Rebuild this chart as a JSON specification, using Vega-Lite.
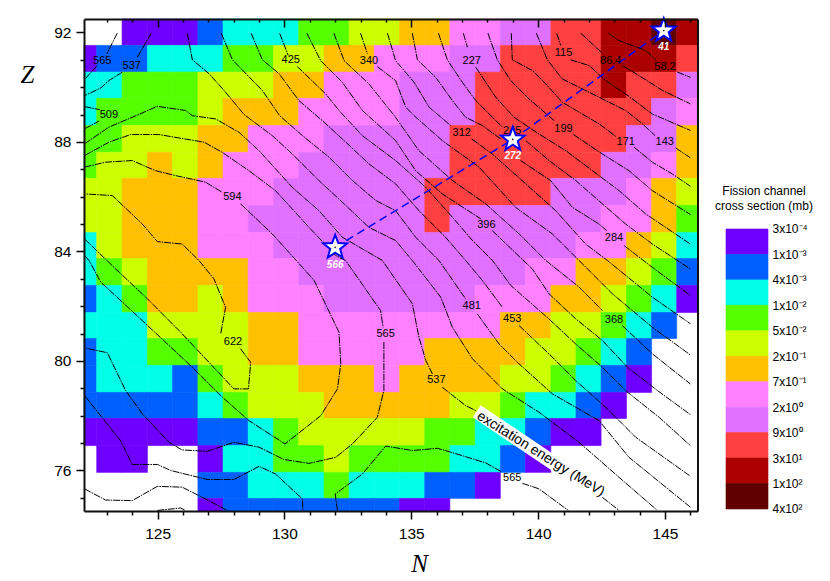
{"$schema":"https://vega.github.io/schema/vega-lite/v6.json","padding":{"left":20,"top":13,"right":0,"bottom":0},"bounds":"flush","spacing":28,"config":{"font":"Liberation Sans","view":{"stroke":null}},
"datasets":{
"cols":[{"N":122,"n0":122.1,"n1":122.6},{"N":123,"n0":122.6,"n1":123.6},{"N":124,"n0":123.6,"n1":124.6},{"N":125,"n0":124.6,"n1":125.59},{"N":126,"n0":125.59,"n1":126.59},{"N":127,"n0":126.59,"n1":127.58},{"N":128,"n0":127.58,"n1":128.57},{"N":129,"n0":128.57,"n1":129.57},{"N":130,"n0":129.57,"n1":130.56},{"N":131,"n0":130.56,"n1":131.56},{"N":132,"n0":131.56,"n1":132.55},{"N":133,"n0":132.55,"n1":133.54},{"N":134,"n0":133.54,"n1":134.54},{"N":135,"n0":134.54,"n1":135.53},{"N":136,"n0":135.53,"n1":136.52},{"N":137,"n0":136.52,"n1":137.52},{"N":138,"n0":137.52,"n1":138.51},{"N":139,"n0":138.51,"n1":139.5},{"N":140,"n0":139.5,"n1":140.5},{"N":141,"n0":140.5,"n1":141.49},{"N":142,"n0":141.49,"n1":142.48},{"N":143,"n0":142.48,"n1":143.48},{"N":144,"n0":143.48,"n1":144.47},{"N":145,"n0":144.47,"n1":145.46},{"N":146,"n0":145.46,"n1":146.28}],
"rows":[{"Z":92,"z0":91.525,"z1":92.49},{"Z":91,"z0":90.55,"z1":91.525},{"Z":90,"z0":89.59,"z1":90.55},{"Z":89,"z0":88.6,"z1":89.59},{"Z":88,"z0":87.62,"z1":88.6},{"Z":87,"z0":86.67,"z1":87.62},{"Z":86,"z0":85.68,"z1":86.67},{"Z":85,"z0":84.69,"z1":85.68},{"Z":84,"z0":83.74,"z1":84.69},{"Z":83,"z0":82.76,"z1":83.74},{"Z":82,"z0":81.77,"z1":82.76},{"Z":81,"z0":80.82,"z1":81.77},{"Z":80,"z0":79.84,"z1":80.82},{"Z":79,"z0":78.85,"z1":79.84},{"Z":78,"z0":77.9,"z1":78.85},{"Z":77,"z0":76.91,"z1":77.9},{"Z":76,"z0":75.93,"z1":76.91},{"Z":75,"z0":74.98,"z1":75.93},{"Z":74,"z0":74.52,"z1":74.98}],
"cells":[
{"N":124,"Z":92,"c":0},{"N":125,"Z":92,"c":0},{"N":126,"Z":92,"c":0},{"N":127,"Z":92,"c":1},{"N":128,"Z":92,"c":2},{"N":129,"Z":92,"c":2},{"N":130,"Z":92,"c":2},{"N":131,"Z":92,"c":3},{"N":132,"Z":92,"c":3},{"N":133,"Z":92,"c":4},{"N":134,"Z":92,"c":4},{"N":135,"Z":92,"c":5},{"N":136,"Z":92,"c":5},{"N":137,"Z":92,"c":6},{"N":138,"Z":92,"c":6},{"N":139,"Z":92,"c":7},{"N":140,"Z":92,"c":7},{"N":141,"Z":92,"c":8},{"N":142,"Z":92,"c":8},{"N":143,"Z":92,"c":9},{"N":144,"Z":92,"c":9},{"N":145,"Z":92,"c":10},{"N":146,"Z":92,"c":9},
{"N":122,"Z":91,"c":0},{"N":123,"Z":91,"c":1},{"N":124,"Z":91,"c":1},{"N":125,"Z":91,"c":2},{"N":126,"Z":91,"c":2},{"N":127,"Z":91,"c":2},{"N":128,"Z":91,"c":3},{"N":129,"Z":91,"c":3},{"N":130,"Z":91,"c":4},{"N":131,"Z":91,"c":4},{"N":132,"Z":91,"c":5},{"N":133,"Z":91,"c":5},{"N":134,"Z":91,"c":6},{"N":135,"Z":91,"c":6},{"N":136,"Z":91,"c":6},{"N":137,"Z":91,"c":7},{"N":138,"Z":91,"c":7},{"N":139,"Z":91,"c":8},{"N":140,"Z":91,"c":8},{"N":141,"Z":91,"c":8},{"N":142,"Z":91,"c":8},{"N":143,"Z":91,"c":9},{"N":144,"Z":91,"c":9},{"N":145,"Z":91,"c":9},{"N":146,"Z":91,"c":8},
{"N":122,"Z":90,"c":2},{"N":123,"Z":90,"c":2},{"N":124,"Z":90,"c":3},{"N":125,"Z":90,"c":3},{"N":126,"Z":90,"c":3},{"N":127,"Z":90,"c":4},{"N":128,"Z":90,"c":4},{"N":129,"Z":90,"c":4},{"N":130,"Z":90,"c":5},{"N":131,"Z":90,"c":5},{"N":132,"Z":90,"c":6},{"N":133,"Z":90,"c":6},{"N":134,"Z":90,"c":6},{"N":135,"Z":90,"c":7},{"N":136,"Z":90,"c":7},{"N":137,"Z":90,"c":7},{"N":138,"Z":90,"c":8},{"N":139,"Z":90,"c":8},{"N":140,"Z":90,"c":8},{"N":141,"Z":90,"c":8},{"N":142,"Z":90,"c":8},{"N":143,"Z":90,"c":9},{"N":144,"Z":90,"c":8},{"N":145,"Z":90,"c":8},{"N":146,"Z":90,"c":7},
{"N":122,"Z":89,"c":2},{"N":123,"Z":89,"c":3},{"N":124,"Z":89,"c":3},{"N":125,"Z":89,"c":3},{"N":126,"Z":89,"c":3},{"N":127,"Z":89,"c":4},{"N":128,"Z":89,"c":5},{"N":129,"Z":89,"c":5},{"N":130,"Z":89,"c":5},{"N":131,"Z":89,"c":6},{"N":132,"Z":89,"c":6},{"N":133,"Z":89,"c":6},{"N":134,"Z":89,"c":6},{"N":135,"Z":89,"c":7},{"N":136,"Z":89,"c":7},{"N":137,"Z":89,"c":7},{"N":138,"Z":89,"c":8},{"N":139,"Z":89,"c":8},{"N":140,"Z":89,"c":8},{"N":141,"Z":89,"c":8},{"N":142,"Z":89,"c":8},{"N":143,"Z":89,"c":8},{"N":144,"Z":89,"c":8},{"N":145,"Z":89,"c":7},{"N":146,"Z":89,"c":6},
{"N":122,"Z":88,"c":3},{"N":123,"Z":88,"c":3},{"N":124,"Z":88,"c":4},{"N":125,"Z":88,"c":4},{"N":126,"Z":88,"c":4},{"N":127,"Z":88,"c":5},{"N":128,"Z":88,"c":5},{"N":129,"Z":88,"c":6},{"N":130,"Z":88,"c":6},{"N":131,"Z":88,"c":6},{"N":132,"Z":88,"c":7},{"N":133,"Z":88,"c":7},{"N":134,"Z":88,"c":7},{"N":135,"Z":88,"c":7},{"N":136,"Z":88,"c":7},{"N":137,"Z":88,"c":8},{"N":138,"Z":88,"c":8},{"N":139,"Z":88,"c":8},{"N":140,"Z":88,"c":8},{"N":141,"Z":88,"c":8},{"N":142,"Z":88,"c":8},{"N":143,"Z":88,"c":8},{"N":144,"Z":88,"c":7},{"N":145,"Z":88,"c":7},{"N":146,"Z":88,"c":5},
{"N":122,"Z":87,"c":3},{"N":123,"Z":87,"c":4},{"N":124,"Z":87,"c":4},{"N":125,"Z":87,"c":5},{"N":126,"Z":87,"c":4},{"N":127,"Z":87,"c":5},{"N":128,"Z":87,"c":6},{"N":129,"Z":87,"c":6},{"N":130,"Z":87,"c":6},{"N":131,"Z":87,"c":7},{"N":132,"Z":87,"c":7},{"N":133,"Z":87,"c":7},{"N":134,"Z":87,"c":7},{"N":135,"Z":87,"c":7},{"N":136,"Z":87,"c":7},{"N":137,"Z":87,"c":8},{"N":138,"Z":87,"c":8},{"N":139,"Z":87,"c":8},{"N":140,"Z":87,"c":8},{"N":141,"Z":87,"c":8},{"N":142,"Z":87,"c":8},{"N":143,"Z":87,"c":7},{"N":144,"Z":87,"c":7},{"N":145,"Z":87,"c":6},{"N":146,"Z":87,"c":5},
{"N":122,"Z":86,"c":4},{"N":123,"Z":86,"c":4},{"N":124,"Z":86,"c":5},{"N":125,"Z":86,"c":5},{"N":126,"Z":86,"c":5},{"N":127,"Z":86,"c":6},{"N":128,"Z":86,"c":6},{"N":129,"Z":86,"c":6},{"N":130,"Z":86,"c":7},{"N":131,"Z":86,"c":7},{"N":132,"Z":86,"c":7},{"N":133,"Z":86,"c":7},{"N":134,"Z":86,"c":7},{"N":135,"Z":86,"c":7},{"N":136,"Z":86,"c":8},{"N":137,"Z":86,"c":8},{"N":138,"Z":86,"c":8},{"N":139,"Z":86,"c":8},{"N":140,"Z":86,"c":8},{"N":141,"Z":86,"c":7},{"N":142,"Z":86,"c":7},{"N":143,"Z":86,"c":7},{"N":144,"Z":86,"c":6},{"N":145,"Z":86,"c":5},{"N":146,"Z":86,"c":4},
{"N":122,"Z":85,"c":4},{"N":123,"Z":85,"c":4},{"N":124,"Z":85,"c":5},{"N":125,"Z":85,"c":5},{"N":126,"Z":85,"c":5},{"N":127,"Z":85,"c":6},{"N":128,"Z":85,"c":6},{"N":129,"Z":85,"c":7},{"N":130,"Z":85,"c":7},{"N":131,"Z":85,"c":7},{"N":132,"Z":85,"c":7},{"N":133,"Z":85,"c":7},{"N":134,"Z":85,"c":7},{"N":135,"Z":85,"c":7},{"N":136,"Z":85,"c":8},{"N":137,"Z":85,"c":7},{"N":138,"Z":85,"c":7},{"N":139,"Z":85,"c":7},{"N":140,"Z":85,"c":7},{"N":141,"Z":85,"c":7},{"N":142,"Z":85,"c":7},{"N":143,"Z":85,"c":6},{"N":144,"Z":85,"c":6},{"N":145,"Z":85,"c":5},{"N":146,"Z":85,"c":3},
{"N":122,"Z":84,"c":2},{"N":123,"Z":84,"c":4},{"N":124,"Z":84,"c":5},{"N":125,"Z":84,"c":5},{"N":126,"Z":84,"c":5},{"N":127,"Z":84,"c":6},{"N":128,"Z":84,"c":6},{"N":129,"Z":84,"c":6},{"N":130,"Z":84,"c":7},{"N":131,"Z":84,"c":7},{"N":132,"Z":84,"c":7},{"N":133,"Z":84,"c":7},{"N":134,"Z":84,"c":7},{"N":135,"Z":84,"c":7},{"N":136,"Z":84,"c":7},{"N":137,"Z":84,"c":7},{"N":138,"Z":84,"c":7},{"N":139,"Z":84,"c":7},{"N":140,"Z":84,"c":7},{"N":141,"Z":84,"c":7},{"N":142,"Z":84,"c":6},{"N":143,"Z":84,"c":6},{"N":144,"Z":84,"c":5},{"N":145,"Z":84,"c":4},{"N":146,"Z":84,"c":2},
{"N":122,"Z":83,"c":2},{"N":123,"Z":83,"c":3},{"N":124,"Z":83,"c":4},{"N":125,"Z":83,"c":5},{"N":126,"Z":83,"c":5},{"N":127,"Z":83,"c":5},{"N":128,"Z":83,"c":5},{"N":129,"Z":83,"c":6},{"N":130,"Z":83,"c":6},{"N":131,"Z":83,"c":7},{"N":132,"Z":83,"c":7},{"N":133,"Z":83,"c":7},{"N":134,"Z":83,"c":7},{"N":135,"Z":83,"c":7},{"N":136,"Z":83,"c":7},{"N":137,"Z":83,"c":7},{"N":138,"Z":83,"c":7},{"N":139,"Z":83,"c":7},{"N":140,"Z":83,"c":6},{"N":141,"Z":83,"c":6},{"N":142,"Z":83,"c":5},{"N":143,"Z":83,"c":5},{"N":144,"Z":83,"c":4},{"N":145,"Z":83,"c":3},{"N":146,"Z":83,"c":1},
{"N":122,"Z":82,"c":1},{"N":123,"Z":82,"c":2},{"N":124,"Z":82,"c":3},{"N":125,"Z":82,"c":5},{"N":126,"Z":82,"c":5},{"N":127,"Z":82,"c":4},{"N":128,"Z":82,"c":5},{"N":129,"Z":82,"c":6},{"N":130,"Z":82,"c":6},{"N":131,"Z":82,"c":6},{"N":132,"Z":82,"c":7},{"N":133,"Z":82,"c":7},{"N":134,"Z":82,"c":7},{"N":135,"Z":82,"c":7},{"N":136,"Z":82,"c":7},{"N":137,"Z":82,"c":7},{"N":138,"Z":82,"c":6},{"N":139,"Z":82,"c":6},{"N":140,"Z":82,"c":6},{"N":141,"Z":82,"c":5},{"N":142,"Z":82,"c":5},{"N":143,"Z":82,"c":4},{"N":144,"Z":82,"c":3},{"N":145,"Z":82,"c":2},{"N":146,"Z":82,"c":0},
{"N":122,"Z":81,"c":2},{"N":123,"Z":81,"c":2},{"N":124,"Z":81,"c":2},{"N":125,"Z":81,"c":4},{"N":126,"Z":81,"c":4},{"N":127,"Z":81,"c":4},{"N":128,"Z":81,"c":4},{"N":129,"Z":81,"c":5},{"N":130,"Z":81,"c":5},{"N":131,"Z":81,"c":6},{"N":132,"Z":81,"c":6},{"N":133,"Z":81,"c":6},{"N":134,"Z":81,"c":6},{"N":135,"Z":81,"c":6},{"N":136,"Z":81,"c":6},{"N":137,"Z":81,"c":6},{"N":138,"Z":81,"c":6},{"N":139,"Z":81,"c":5},{"N":140,"Z":81,"c":5},{"N":141,"Z":81,"c":4},{"N":142,"Z":81,"c":4},{"N":143,"Z":81,"c":3},{"N":144,"Z":81,"c":2},{"N":145,"Z":81,"c":1},
{"N":122,"Z":80,"c":1},{"N":123,"Z":80,"c":2},{"N":124,"Z":80,"c":2},{"N":125,"Z":80,"c":3},{"N":126,"Z":80,"c":3},{"N":127,"Z":80,"c":4},{"N":128,"Z":80,"c":4},{"N":129,"Z":80,"c":5},{"N":130,"Z":80,"c":5},{"N":131,"Z":80,"c":6},{"N":132,"Z":80,"c":6},{"N":133,"Z":80,"c":6},{"N":134,"Z":80,"c":6},{"N":135,"Z":80,"c":6},{"N":136,"Z":80,"c":5},{"N":137,"Z":80,"c":5},{"N":138,"Z":80,"c":5},{"N":139,"Z":80,"c":5},{"N":140,"Z":80,"c":4},{"N":141,"Z":80,"c":4},{"N":142,"Z":80,"c":3},{"N":143,"Z":80,"c":2},{"N":144,"Z":80,"c":1},
{"N":122,"Z":79,"c":1},{"N":123,"Z":79,"c":2},{"N":124,"Z":79,"c":2},{"N":125,"Z":79,"c":2},{"N":126,"Z":79,"c":1},{"N":127,"Z":79,"c":3},{"N":128,"Z":79,"c":4},{"N":129,"Z":79,"c":4},{"N":130,"Z":79,"c":4},{"N":131,"Z":79,"c":5},{"N":132,"Z":79,"c":5},{"N":133,"Z":79,"c":5},{"N":134,"Z":79,"c":6},{"N":135,"Z":79,"c":5},{"N":136,"Z":79,"c":5},{"N":137,"Z":79,"c":5},{"N":138,"Z":79,"c":5},{"N":139,"Z":79,"c":4},{"N":140,"Z":79,"c":4},{"N":141,"Z":79,"c":3},{"N":142,"Z":79,"c":2},{"N":143,"Z":79,"c":1},{"N":144,"Z":79,"c":0},
{"N":122,"Z":78,"c":1},{"N":123,"Z":78,"c":1},{"N":124,"Z":78,"c":1},{"N":125,"Z":78,"c":1},{"N":126,"Z":78,"c":1},{"N":127,"Z":78,"c":2},{"N":128,"Z":78,"c":3},{"N":129,"Z":78,"c":4},{"N":130,"Z":78,"c":4},{"N":131,"Z":78,"c":4},{"N":132,"Z":78,"c":5},{"N":133,"Z":78,"c":5},{"N":134,"Z":78,"c":5},{"N":135,"Z":78,"c":5},{"N":136,"Z":78,"c":5},{"N":137,"Z":78,"c":4},{"N":138,"Z":78,"c":4},{"N":139,"Z":78,"c":3},{"N":140,"Z":78,"c":2},{"N":141,"Z":78,"c":2},{"N":142,"Z":78,"c":1},{"N":143,"Z":78,"c":0},
{"N":122,"Z":77,"c":0},{"N":123,"Z":77,"c":0},{"N":124,"Z":77,"c":0},{"N":125,"Z":77,"c":0},{"N":126,"Z":77,"c":0},{"N":127,"Z":77,"c":1},{"N":128,"Z":77,"c":1},{"N":129,"Z":77,"c":2},{"N":130,"Z":77,"c":3},{"N":131,"Z":77,"c":4},{"N":132,"Z":77,"c":4},{"N":133,"Z":77,"c":4},{"N":134,"Z":77,"c":4},{"N":135,"Z":77,"c":4},{"N":136,"Z":77,"c":3},{"N":137,"Z":77,"c":3},{"N":138,"Z":77,"c":2},{"N":139,"Z":77,"c":2},{"N":140,"Z":77,"c":1},{"N":141,"Z":77,"c":0},{"N":142,"Z":77,"c":0},
{"N":123,"Z":76,"c":0},{"N":124,"Z":76,"c":0},{"N":127,"Z":76,"c":0},{"N":128,"Z":76,"c":2},{"N":129,"Z":76,"c":2},{"N":130,"Z":76,"c":3},{"N":131,"Z":76,"c":3},{"N":132,"Z":76,"c":4},{"N":133,"Z":76,"c":3},{"N":134,"Z":76,"c":3},{"N":135,"Z":76,"c":3},{"N":136,"Z":76,"c":3},{"N":137,"Z":76,"c":2},{"N":138,"Z":76,"c":2},{"N":139,"Z":76,"c":1},{"N":140,"Z":76,"c":0},
{"N":127,"Z":75,"c":1},{"N":128,"Z":75,"c":1},{"N":129,"Z":75,"c":2},{"N":130,"Z":75,"c":2},{"N":131,"Z":75,"c":2},{"N":132,"Z":75,"c":3},{"N":133,"Z":75,"c":2},{"N":134,"Z":75,"c":2},{"N":135,"Z":75,"c":2},{"N":136,"Z":75,"c":1},{"N":137,"Z":75,"c":1},{"N":138,"Z":75,"c":0},
{"N":127,"Z":74,"c":0},{"N":128,"Z":74,"c":1},{"N":129,"Z":74,"c":1},{"N":130,"Z":74,"c":1},{"N":131,"Z":74,"c":1},{"N":132,"Z":74,"c":1},{"N":133,"Z":74,"c":1},{"N":134,"Z":74,"c":1},{"N":135,"Z":74,"c":0},{"N":136,"Z":74,"c":0}],
"contours":[
{"k":"a1","i":0,"N":123.41,"Z":91.97},{"k":"a1","i":1,"N":123.0,"Z":91.22},
{"k":"a2","i":0,"N":122.62,"Z":90.79},{"k":"a2","i":1,"N":122.12,"Z":90.28},
{"k":"b1","i":0,"N":124.75,"Z":91.97},{"k":"b1","i":1,"N":124.2,"Z":91.09},
{"k":"b2","i":0,"N":123.61,"Z":90.55},{"k":"b2","i":1,"N":123.08,"Z":90.24},{"k":"b2","i":2,"N":122.76,"Z":89.97},{"k":"b2","i":3,"N":122.12,"Z":89.69},
{"k":"c1","i":0,"N":122.12,"Z":89.29},{"k":"c1","i":1,"N":122.72,"Z":89.18},
{"k":"c2","i":0,"N":122.12,"Z":88.48},{"k":"c2","i":1,"N":122.69,"Z":88.76},
{"k":"d1","i":0,"N":122.12,"Z":87.93},{"k":"d1","i":1,"N":123.08,"Z":88.54},{"k":"d1","i":2,"N":124.0,"Z":88.9},{"k":"d1","i":3,"N":124.99,"Z":89.3},{"k":"d1","i":4,"N":126.1,"Z":89.15},{"k":"d1","i":5,"N":126.37,"Z":88.96},{"k":"d1","i":6,"N":127.29,"Z":88.84},{"k":"d1","i":7,"N":128.21,"Z":88.35},{"k":"d1","i":8,"N":129.0,"Z":87.68},{"k":"d1","i":9,"N":130.31,"Z":86.34},{"k":"d1","i":10,"N":131.36,"Z":85.49},{"k":"d1","i":11,"N":132.28,"Z":84.52},{"k":"d1","i":12,"N":133.86,"Z":83.67},{"k":"d1","i":13,"N":135.04,"Z":82.09},{"k":"d1","i":14,"N":135.3,"Z":80.87},{"k":"d1","i":15,"N":135.57,"Z":80.02},{"k":"d1","i":16,"N":135.83,"Z":79.53},
{"k":"d2","i":0,"N":136.22,"Z":79.04},{"k":"d2","i":1,"N":137.14,"Z":78.37},{"k":"d2","i":2,"N":137.54,"Z":78.19},
{"k":"d3","i":0,"N":142.53,"Z":75.02},{"k":"d3","i":1,"N":143.19,"Z":74.54},
{"k":"e1","i":0,"N":122.12,"Z":87.5},{"k":"e1","i":1,"N":123.08,"Z":87.99},{"k":"e1","i":2,"N":123.94,"Z":88.27},{"k":"e1","i":3,"N":125.05,"Z":88.27},{"k":"e1","i":4,"N":126.83,"Z":87.99},{"k":"e1","i":5,"N":127.55,"Z":87.62},{"k":"e1","i":6,"N":128.6,"Z":86.95},{"k":"e1","i":7,"N":129.65,"Z":86.22},{"k":"e1","i":8,"N":130.97,"Z":84.88},{"k":"e1","i":9,"N":132.02,"Z":83.85},{"k":"e1","i":10,"N":132.41,"Z":83.67},{"k":"e1","i":11,"N":133.79,"Z":81.84},{"k":"e1","i":12,"N":133.89,"Z":81.23},
{"k":"e2","i":0,"N":133.92,"Z":80.69},{"k":"e2","i":1,"N":133.92,"Z":78.92},{"k":"e2","i":2,"N":133.66,"Z":77.94},{"k":"e2","i":3,"N":132.68,"Z":76.97},{"k":"e2","i":4,"N":132.02,"Z":76.48},{"k":"e2","i":5,"N":130.97,"Z":76.26},{"k":"e2","i":6,"N":129.98,"Z":76.4},{"k":"e2","i":7,"N":129,"Z":76.85},{"k":"e2","i":8,"N":128.01,"Z":77.03},{"k":"e2","i":9,"N":126.96,"Z":76.7},{"k":"e2","i":10,"N":125.97,"Z":76.75},{"k":"e2","i":11,"N":125.45,"Z":77.03},{"k":"e2","i":12,"N":124.4,"Z":78.07},{"k":"e2","i":13,"N":123.74,"Z":78.92},{"k":"e2","i":14,"N":123.02,"Z":80.3},{"k":"e2","i":15,"N":122.12,"Z":80.48},
{"k":"f1","i":0,"N":122.12,"Z":87.08},{"k":"f1","i":1,"N":122.95,"Z":87.26},{"k":"f1","i":2,"N":124,"Z":87.32},{"k":"f1","i":3,"N":124.92,"Z":86.95},{"k":"f1","i":4,"N":125.71,"Z":86.77},{"k":"f1","i":5,"N":126.89,"Z":86.53},{"k":"f1","i":6,"N":127.55,"Z":86.16},
{"k":"f2","i":0,"N":128.27,"Z":85.74},{"k":"f2","i":1,"N":129.52,"Z":84.64},{"k":"f2","i":2,"N":130.71,"Z":83.42},{"k":"f2","i":3,"N":131.17,"Z":82.94},{"k":"f2","i":4,"N":132.15,"Z":81.05},{"k":"f2","i":5,"N":132.22,"Z":79.89},{"k":"f2","i":6,"N":132.09,"Z":78.98},{"k":"f2","i":7,"N":131.43,"Z":78.0},{"k":"f2","i":8,"N":130.02,"Z":76.97},{"k":"f2","i":9,"N":128.6,"Z":77.82},{"k":"f2","i":10,"N":127.55,"Z":78.68},{"k":"f2","i":11,"N":126.37,"Z":79.77},{"k":"f2","i":12,"N":124.53,"Z":81.36},{"k":"f2","i":13,"N":122.76,"Z":82.88},{"k":"f2","i":14,"N":122.3,"Z":83.67},{"k":"f2","i":15,"N":122.12,"Z":83.85},
{"k":"g1","i":0,"N":122.12,"Z":84.46},{"k":"g1","i":1,"N":123.35,"Z":83.36},{"k":"g1","i":2,"N":124.6,"Z":82.27},{"k":"g1","i":3,"N":125.91,"Z":81.05},{"k":"g1","i":4,"N":128.01,"Z":78.98},{"k":"g1","i":5,"N":128.58,"Z":78.98},{"k":"g1","i":6,"N":128.67,"Z":79.95},{"k":"g1","i":7,"N":128.24,"Z":80.48},
{"k":"g2","i":0,"N":127.49,"Z":81.01},{"k":"g2","i":1,"N":127.68,"Z":81.96},{"k":"g2","i":2,"N":127.22,"Z":83.0},{"k":"g2","i":3,"N":126.63,"Z":83.67},{"k":"g2","i":4,"N":125.97,"Z":84.27},{"k":"g2","i":5,"N":124.99,"Z":84.36},{"k":"g2","i":6,"N":124.4,"Z":85.0},{"k":"g2","i":7,"N":123.22,"Z":86.04},{"k":"g2","i":8,"N":122.16,"Z":86.1},
{"k":"h1","i":0,"N":122.12,"Z":78.74},{"k":"h1","i":1,"N":123.54,"Z":77.09},{"k":"h1","i":2,"N":124.0,"Z":76.22},{"k":"h1","i":3,"N":124.99,"Z":76.22},{"k":"h1","i":4,"N":125.52,"Z":76.0},{"k":"h1","i":5,"N":126.96,"Z":75.67},{"k":"h1","i":6,"N":128.01,"Z":75.67},{"k":"h1","i":7,"N":129,"Z":76.15},{"k":"h1","i":8,"N":129.65,"Z":75.87},{"k":"h1","i":9,"N":130.71,"Z":74.96},{"k":"h1","i":10,"N":130.73,"Z":74.54},
{"k":"h2","i":0,"N":122.12,"Z":75.33},{"k":"h2","i":1,"N":122.95,"Z":74.92},{"k":"h2","i":2,"N":124,"Z":74.9},{"k":"h2","i":3,"N":124.99,"Z":75.42},{"k":"h2","i":4,"N":125.97,"Z":75.39},{"k":"h2","i":5,"N":126.89,"Z":74.96},{"k":"h2","i":6,"N":127.75,"Z":74.54},
{"k":"h3","i":0,"N":124.99,"Z":74.54},{"k":"h3","i":1,"N":125.91,"Z":74.63},{"k":"h3","i":2,"N":126.1,"Z":74.54},
{"k":"j1","i":0,"N":132.09,"Z":74.54},{"k":"j1","i":1,"N":132.0,"Z":75.14},{"k":"j1","i":2,"N":133.07,"Z":75.87},{"k":"j1","i":3,"N":133.99,"Z":76.89},{"k":"j1","i":4,"N":135.04,"Z":76.73},{"k":"j1","i":5,"N":136.03,"Z":76.81},{"k":"j1","i":6,"N":136.55,"Z":76.67},{"k":"j1","i":7,"N":137.93,"Z":76.28},{"k":"j1","i":8,"N":138.52,"Z":75.97},
{"k":"j2","i":0,"N":139.38,"Z":75.53},{"k":"j2","i":1,"N":140.03,"Z":75.33},{"k":"j2","i":2,"N":141.19,"Z":74.54},
{"k":"l1","i":0,"N":126.17,"Z":91.97},{"k":"l1","i":1,"N":126.37,"Z":91.0},{"k":"l1","i":2,"N":127.03,"Z":90.49},{"k":"l1","i":3,"N":127.62,"Z":89.88},{"k":"l1","i":4,"N":128.41,"Z":89.0},{"k":"l1","i":5,"N":129.52,"Z":88.23},{"k":"l1","i":6,"N":130.31,"Z":87.56},{"k":"l1","i":7,"N":131.36,"Z":86.59},{"k":"l1","i":8,"N":132.28,"Z":85.8},{"k":"l1","i":9,"N":133.33,"Z":84.88},{"k":"l1","i":10,"N":134.38,"Z":84.4},{"k":"l1","i":11,"N":135.04,"Z":83.67},{"k":"l1","i":12,"N":136.16,"Z":82.33},{"k":"l1","i":13,"N":136.62,"Z":81.23},{"k":"l1","i":14,"N":137.41,"Z":80.08},{"k":"l1","i":15,"N":138.59,"Z":78.98},{"k":"l1","i":16,"N":140.03,"Z":78.13},{"k":"l1","i":17,"N":141.61,"Z":77.03},{"k":"l1","i":18,"N":143.19,"Z":75.75},{"k":"l1","i":19,"N":144.7,"Z":74.54},
{"k":"m1","i":0,"N":127.51,"Z":91.97},{"k":"m1","i":1,"N":127.95,"Z":91.0},{"k":"m1","i":2,"N":129.13,"Z":89.88},{"k":"m1","i":3,"N":129.81,"Z":88.96},{"k":"m1","i":4,"N":130.71,"Z":88.23},{"k":"m1","i":5,"N":131.76,"Z":87.44},{"k":"m1","i":6,"N":132.68,"Z":86.59},{"k":"m1","i":7,"N":133.6,"Z":85.86},{"k":"m1","i":8,"N":134.38,"Z":85.49},{"k":"m1","i":9,"N":135.17,"Z":84.52},{"k":"m1","i":10,"N":136.09,"Z":83.67},{"k":"m1","i":11,"N":137.14,"Z":82.27},
{"k":"m2","i":0,"N":137.6,"Z":81.72},{"k":"m2","i":1,"N":138.46,"Z":80.62},{"k":"m2","i":2,"N":139.25,"Z":79.89},{"k":"m2","i":3,"N":140.56,"Z":78.8},{"k":"m2","i":4,"N":142.4,"Z":77.82},{"k":"m2","i":5,"N":143.58,"Z":76.48},{"k":"m2","i":6,"N":146,"Z":74.66},
{"k":"o1","i":0,"N":128.69,"Z":91.97},{"k":"o1","i":1,"N":129.13,"Z":91.0},{"k":"o1","i":2,"N":129.79,"Z":90.49},{"k":"o1","i":3,"N":130.57,"Z":89.51},{"k":"o1","i":4,"N":131.49,"Z":88.78},{"k":"o1","i":5,"N":132.28,"Z":88.11},{"k":"o1","i":6,"N":133.33,"Z":87.2},{"k":"o1","i":7,"N":134.38,"Z":86.47},{"k":"o1","i":8,"N":135.3,"Z":85.49},{"k":"o1","i":9,"N":136.35,"Z":84.52},{"k":"o1","i":10,"N":137.14,"Z":83.67},{"k":"o1","i":11,"N":137.8,"Z":82.94},{"k":"o1","i":12,"N":138.59,"Z":81.96},
{"k":"o2","i":0,"N":139.25,"Z":81.29},{"k":"o2","i":1,"N":140.56,"Z":80.14},{"k":"o2","i":2,"N":141.48,"Z":79.28},{"k":"o2","i":3,"N":142.66,"Z":78.31},{"k":"o2","i":4,"N":143.85,"Z":77.21},{"k":"o2","i":5,"N":146,"Z":75.79},
{"k":"p1","i":0,"N":129.81,"Z":91.97},{"k":"p1","i":1,"N":130.15,"Z":91.16},
{"k":"p2","i":0,"N":130.51,"Z":90.75},{"k":"p2","i":1,"N":131.63,"Z":89.75},{"k":"p2","i":2,"N":132.15,"Z":89.15},{"k":"p2","i":3,"N":133.07,"Z":88.23},{"k":"p2","i":4,"N":134.38,"Z":87.32},{"k":"p2","i":5,"N":135.57,"Z":86.34},{"k":"p2","i":6,"N":136.62,"Z":85.25},{"k":"p2","i":7,"N":137.41,"Z":84.4},{"k":"p2","i":8,"N":138.2,"Z":83.67},{"k":"p2","i":9,"N":138.92,"Z":82.76},{"k":"p2","i":10,"N":140.49,"Z":81.48},{"k":"p2","i":11,"N":141.48,"Z":80.62},{"k":"p2","i":12,"N":142.53,"Z":79.77},{"k":"p2","i":13,"N":143.52,"Z":78.86},{"k":"p2","i":14,"N":144.77,"Z":77.94},{"k":"p2","i":15,"N":146,"Z":76.91},
{"k":"q1","i":0,"N":130.88,"Z":91.97},{"k":"q1","i":1,"N":131.43,"Z":90.97},{"k":"q1","i":2,"N":132.28,"Z":90.18},{"k":"q1","i":3,"N":133.07,"Z":89.15},{"k":"q1","i":4,"N":134.38,"Z":88.05},{"k":"q1","i":5,"N":135.17,"Z":86.95},{"k":"q1","i":6,"N":136.22,"Z":86.1},{"k":"q1","i":7,"N":137.74,"Z":85.19},
{"k":"q2","i":0,"N":138.19,"Z":84.76},{"k":"q2","i":1,"N":139.77,"Z":83.36},{"k":"q2","i":2,"N":140.43,"Z":82.45},{"k":"q2","i":3,"N":141.48,"Z":81.54},{"k":"q2","i":4,"N":142.53,"Z":80.75},{"k":"q2","i":5,"N":143.52,"Z":79.77},{"k":"q2","i":6,"N":144.7,"Z":78.92},{"k":"q2","i":7,"N":146,"Z":78.04},
{"k":"r1","i":0,"N":131.95,"Z":91.97},{"k":"r1","i":1,"N":132.35,"Z":90.97},{"k":"r1","i":2,"N":133.33,"Z":90.12},{"k":"r1","i":3,"N":134.38,"Z":88.9},{"k":"r1","i":4,"N":135.3,"Z":87.68},{"k":"r1","i":5,"N":136.62,"Z":86.59},{"k":"r1","i":6,"N":137.93,"Z":85.74},{"k":"r1","i":7,"N":139.25,"Z":84.64},{"k":"r1","i":8,"N":140.3,"Z":83.67},{"k":"r1","i":9,"N":141.61,"Z":82.7},{"k":"r1","i":10,"N":142.53,"Z":81.84},
{"k":"r2","i":0,"N":143.32,"Z":81.29},{"k":"r2","i":1,"N":144.5,"Z":80.26},{"k":"r2","i":2,"N":146,"Z":79.16},
{"k":"s1","i":0,"N":133.0,"Z":91.97},{"k":"s1","i":1,"N":133.27,"Z":91.22},
{"k":"s2","i":0,"N":133.66,"Z":90.75},{"k":"s2","i":1,"N":134.38,"Z":90.24},{"k":"s2","i":2,"N":134.78,"Z":89.27},{"k":"s2","i":3,"N":135.11,"Z":88.96},{"k":"s2","i":4,"N":136.22,"Z":88.05},{"k":"s2","i":5,"N":137.67,"Z":87.08},{"k":"s2","i":6,"N":139.11,"Z":85.61},{"k":"s2","i":7,"N":140.56,"Z":84.64},{"k":"s2","i":8,"N":141.61,"Z":83.67},{"k":"s2","i":9,"N":142.93,"Z":82.45},{"k":"s2","i":10,"N":144.5,"Z":81.23},{"k":"s2","i":11,"N":146,"Z":80.22},
{"k":"t1","i":0,"N":134.06,"Z":91.97},{"k":"t1","i":1,"N":134.38,"Z":90.97},{"k":"t1","i":2,"N":135.11,"Z":90.18},{"k":"t1","i":3,"N":135.7,"Z":89.27},{"k":"t1","i":4,"N":136.55,"Z":88.6},
{"k":"t2","i":0,"N":137.38,"Z":88.11},{"k":"t2","i":1,"N":138.19,"Z":87.56},{"k":"t2","i":2,"N":139.51,"Z":86.47},{"k":"t2","i":3,"N":140.69,"Z":85.49},{"k":"t2","i":4,"N":141.87,"Z":84.27},{"k":"t2","i":5,"N":142.73,"Z":83.67},{"k":"t2","i":6,"N":144.5,"Z":82.33},{"k":"t2","i":7,"N":146,"Z":81.36},
{"k":"u1","i":0,"N":135.04,"Z":91.97},{"k":"u1","i":1,"N":135.24,"Z":91},{"k":"u1","i":2,"N":135.96,"Z":90.36},{"k":"u1","i":3,"N":136.62,"Z":89.51},{"k":"u1","i":4,"N":137.14,"Z":88.9},{"k":"u1","i":5,"N":137.8,"Z":88.6},{"k":"u1","i":6,"N":138.52,"Z":88.11},
{"k":"u2","i":0,"N":139.31,"Z":87.32},{"k":"u2","i":1,"N":140.49,"Z":86.59},{"k":"u2","i":2,"N":141.35,"Z":85.61},{"k":"u2","i":3,"N":142.4,"Z":85.0},{"k":"u2","i":4,"N":142.73,"Z":84.74},
{"k":"u3","i":0,"N":143.39,"Z":84.21},{"k":"u3","i":1,"N":144.5,"Z":83.42},{"k":"u3","i":2,"N":146,"Z":82.39},
{"k":"v1","i":0,"N":136.07,"Z":91.97},{"k":"v1","i":1,"N":136.42,"Z":91},{"k":"v1","i":2,"N":137.01,"Z":90.18},{"k":"v1","i":3,"N":137.54,"Z":89.51},{"k":"v1","i":4,"N":138.33,"Z":88.78},{"k":"v1","i":5,"N":138.59,"Z":88.54},
{"k":"v2","i":0,"N":139.51,"Z":88.05},{"k":"v2","i":1,"N":140.43,"Z":87.32},{"k":"v2","i":2,"N":141.48,"Z":86.59},{"k":"v2","i":3,"N":142.53,"Z":85.74},{"k":"v2","i":4,"N":143.45,"Z":85.0},{"k":"v2","i":5,"N":144.5,"Z":84.27},{"k":"v2","i":6,"N":146,"Z":83.36},
{"k":"w1","i":0,"N":137.05,"Z":91.97},{"k":"w1","i":1,"N":137.21,"Z":91.46},
{"k":"w2","i":0,"N":137.54,"Z":90.73},{"k":"w2","i":1,"N":138.33,"Z":89.63},{"k":"w2","i":2,"N":139.05,"Z":88.9},{"k":"w2","i":3,"N":140.03,"Z":88.29},{"k":"w2","i":4,"N":141.09,"Z":87.68},{"k":"w2","i":5,"N":142.14,"Z":86.95},{"k":"w2","i":6,"N":143.19,"Z":86.22},{"k":"w2","i":7,"N":144.24,"Z":85.37},{"k":"w2","i":8,"N":146,"Z":84.27},
{"k":"x1","i":0,"N":138.02,"Z":91.97},{"k":"x1","i":1,"N":138.39,"Z":91},{"k":"x1","i":2,"N":138.92,"Z":90.24},{"k":"x1","i":3,"N":139.64,"Z":89.57},{"k":"x1","i":4,"N":140.63,"Z":88.78},
{"k":"x2","i":0,"N":141.39,"Z":88.27},{"k":"x2","i":1,"N":142.53,"Z":87.56},{"k":"x2","i":2,"N":143.58,"Z":86.95},{"k":"x2","i":3,"N":144.5,"Z":86.22},{"k":"x2","i":4,"N":146,"Z":85.35},
{"k":"y1","i":0,"N":138.94,"Z":91.97},{"k":"y1","i":1,"N":138.98,"Z":91},{"k":"y1","i":2,"N":139.77,"Z":90.61},{"k":"y1","i":3,"N":140.3,"Z":90.12},{"k":"y1","i":4,"N":140.95,"Z":89.45},{"k":"y1","i":5,"N":141.74,"Z":89.02},{"k":"y1","i":6,"N":142.4,"Z":88.66},{"k":"y1","i":7,"N":143.06,"Z":88.2},
{"k":"y2","i":0,"N":143.78,"Z":87.81},{"k":"y2","i":1,"N":144.5,"Z":87.26},{"k":"y2","i":2,"N":145.29,"Z":86.83},{"k":"y2","i":3,"N":146,"Z":86.38},
{"k":"z1","i":0,"N":139.93,"Z":91.97},{"k":"z1","i":1,"N":140.36,"Z":91},{"k":"z1","i":2,"N":140.95,"Z":90.3},{"k":"z1","i":3,"N":141.74,"Z":89.94},{"k":"z1","i":4,"N":142.53,"Z":89.57},{"k":"z1","i":5,"N":143.45,"Z":89.15},{"k":"z1","i":6,"N":144.11,"Z":88.66},{"k":"z1","i":7,"N":144.61,"Z":88.23},
{"k":"z2","i":0,"N":145.42,"Z":87.78},{"k":"z2","i":1,"N":146,"Z":87.42},
{"k":"A1","i":0,"N":140.73,"Z":91.97},{"k":"A1","i":1,"N":140.89,"Z":91.52},
{"k":"A2","i":0,"N":141.28,"Z":91},{"k":"A2","i":1,"N":142.01,"Z":90.79},{"k":"A2","i":2,"N":142.66,"Z":90.24},{"k":"A2","i":3,"N":143.45,"Z":89.75},{"k":"A2","i":4,"N":144.5,"Z":89.02},{"k":"A2","i":5,"N":146,"Z":88.42},
{"k":"B1","i":0,"N":141.68,"Z":91.97},{"k":"B1","i":1,"N":142.53,"Z":91.24},
{"k":"B2","i":0,"N":143.32,"Z":90.79},{"k":"B2","i":1,"N":143.98,"Z":90.42},{"k":"B2","i":2,"N":144.9,"Z":89.88},{"k":"B2","i":3,"N":146,"Z":89.39},
{"k":"C1","i":0,"N":142.77,"Z":91.97},{"k":"C1","i":1,"N":143.19,"Z":91.7},{"k":"C1","i":2,"N":144.24,"Z":91.34},{"k":"C1","i":3,"N":144.63,"Z":91.0},
{"k":"C2","i":0,"N":145.49,"Z":90.55},{"k":"C2","i":1,"N":146,"Z":90.36}],
"labels":[{"t":"565","N":122.82,"Z":90.97},{"t":"537","N":123.98,"Z":90.79},{"t":"509","N":123.08,"Z":88.99},{"t":"425","N":130.25,"Z":91.0},{"t":"340","N":133.33,"Z":90.97},{"t":"594","N":127.95,"Z":85.98},{"t":"227","N":137.38,"Z":90.97},{"t":"115","N":141.0,"Z":91.25},{"t":"86.4","N":142.86,"Z":90.97},{"t":"58.2","N":145,"Z":90.75},{"t":"312","N":136.99,"Z":88.32},{"t":"245","N":138.98,"Z":88.39},{"t":"199","N":141,"Z":88.48},{"t":"171","N":143.45,"Z":87.99},{"t":"143","N":144.99,"Z":88.01},{"t":"396","N":137.96,"Z":84.97},{"t":"284","N":142.99,"Z":84.48},{"t":"622","N":127.97,"Z":80.69},{"t":"565","N":133.99,"Z":80.97},{"t":"537","N":135.99,"Z":79.31},{"t":"481","N":137.38,"Z":81.99},{"t":"453","N":138.98,"Z":81.54},{"t":"368","N":142.99,"Z":81.5},{"t":"565","N":138.98,"Z":75.73}],
"stars":[{"N":132,"Z":84.15,"e":"566","lz":83.49},{"N":139,"Z":88.09,"e":"272","lz":87.48},{"N":144.95,"Z":92.07,"e":"41","lz":91.48}],
"band":[{"N":137.58,"Z":78.16},{"N":142.53,"Z":75.08}],
"note":[{"t":"excitation energy (MeV)","N":140.1,"Z":76.6}],
"legend":[{"c":0,"lo":0,"hi":1},{"c":1,"lo":1,"hi":2},{"c":2,"lo":2,"hi":3},{"c":3,"lo":3,"hi":4},{"c":4,"lo":4,"hi":5},{"c":5,"lo":5,"hi":6},{"c":6,"lo":6,"hi":7},{"c":7,"lo":7,"hi":8},{"c":8,"lo":8,"hi":9},{"c":9,"lo":9,"hi":10},{"c":10,"lo":10,"hi":11}],
"ltitle":[{"t":"Fission channel","p":-1.5},{"t":"cross section (mb)","p":-0.92}]
},
"hconcat":[
{"width":613.5,"height":492,"resolve":{"axis":{"x":"independent","y":"independent"}},
"layer":[
{"data":{"name":"cells"},"transform":[{"lookup":"N","from":{"data":{"name":"cols"},"key":"N","fields":["n0","n1"]}},{"lookup":"Z","from":{"data":{"name":"rows"},"key":"Z","fields":["z0","z1"]}}],
"mark":{"type":"rect","strokeWidth":0.6},
"encoding":{
"x":{"field":"n0","type":"quantitative","scale":{"domain":[122.1,146.28],"nice":false,"zero":false},"axis":{"orient":"bottom","values":[123,124,125,126,127,128,129,130,131,132,133,134,135,136,137,138,139,140,141,142,143,144,145,146],"labelExpr":"datum.value % 5 === 0 ? datum.value : ''","labelOverlap":false,"labelFontSize":15.5,"labelColor":"#000","labelPadding":7,"tickColor":"#000","tickWidth":1.5,"tickSize":{"condition":{"test":"datum.value % 5 === 0","value":8},"value":4},"domainColor":"#111","domainWidth":2,"grid":false,"zindex":1,"title":"N","titleFont":"Liberation Serif","titleFontStyle":"italic","titleFontWeight":"normal","titleFontSize":25,"titleColor":"#000","titleX":335,"titlePadding":10}},
"x2":{"field":"n1"},
"y":{"field":"z0","type":"quantitative","scale":{"domain":[74.52,92.49],"nice":false,"zero":false},"axis":{"orient":"left","values":[75,76,77,78,79,80,81,82,83,84,85,86,87,88,89,90,91,92],"labelExpr":"datum.value % 4 === 0 ? datum.value : ''","labelOverlap":false,"labelFontSize":15.5,"labelColor":"#000","labelPadding":5,"tickColor":"#000","tickWidth":1.5,"tickSize":{"condition":{"test":"datum.value % 4 === 0","value":8},"value":4},"domainColor":"#111","domainWidth":2,"grid":false,"zindex":1,"title":"Z","titleFont":"Liberation Serif","titleFontStyle":"italic","titleFontWeight":"normal","titleFontSize":25,"titleColor":"#000","titleAngle":0,"titleX":-57,"titleY":55,"titleAlign":"center","titleBaseline":"middle"}},
"y2":{"field":"z1"},
"color":{"field":"c","type":"nominal","legend":null,"scale":{"domain":[0,1,2,3,4,5,6,7,8,9,10],"range":["#6e00ff","#0060ff","#00ffe6","#55ff00","#ccff00","#ffc000","#ff80ff","#e070ff","#ff4040","#aa0000","#600000"]}},
"stroke":{"field":"c","type":"nominal","legend":null,"scale":{"domain":[0,1,2,3,4,5,6,7,8,9,10],"range":["#6e00ff","#0060ff","#00ffe6","#55ff00","#ccff00","#ffc000","#ff80ff","#e070ff","#ff4040","#aa0000","#600000"]}}}},
{"data":{"name":"contours"},"mark":{"type":"line","stroke":"#000","strokeWidth":1,"strokeDash":[7,1,1.5,1]},
"encoding":{
"x":{"field":"N","type":"quantitative","axis":{"orient":"top","values":[123,124,125,126,127,128,129,130,131,132,133,134,135,136,137,138,139,140,141,142,143,144,145,146],"labels":false,"title":null,"tickColor":"#000","tickWidth":1.5,"tickSize":{"condition":{"test":"datum.value % 5 === 0","value":-8},"value":-3},"domainColor":"#111","domainWidth":2,"grid":false,"zindex":1}},
"y":{"field":"Z","type":"quantitative","axis":{"orient":"right","ticks":false,"labels":false,"title":null,"domainColor":"#111","domainWidth":2,"grid":false,"zindex":1}},
"detail":{"field":"k"},"order":{"field":"i"}}},
{"data":{"name":"band"},"mark":{"type":"line","stroke":"#fff","strokeWidth":14.5,"strokeCap":"butt"},"encoding":{"x":{"field":"N","type":"quantitative","axis":null},"y":{"field":"Z","type":"quantitative","axis":null}}},
{"data":{"name":"stars"},"mark":{"type":"line","stroke":"#0000ff","strokeWidth":1.5,"strokeDash":[8,5]},"encoding":{"x":{"field":"N","type":"quantitative","axis":null},"y":{"field":"Z","type":"quantitative","axis":null}}},
{"data":{"name":"labels"},"mark":{"type":"text","fontSize":11,"color":"#000"},"encoding":{"x":{"field":"N","type":"quantitative","axis":null},"y":{"field":"Z","type":"quantitative","axis":null},"text":{"field":"t"}}},
{"data":{"name":"note"},"mark":{"type":"text","fontSize":14,"angle":32,"color":"#000"},"encoding":{"x":{"field":"N","type":"quantitative","axis":null},"y":{"field":"Z","type":"quantitative","axis":null},"text":{"field":"t"}}},
{"data":{"name":"stars"},"mark":{"type":"point","shape":"M0,-1L0.247,-0.34L0.951,-0.309L0.4,0.13L0.588,0.809L0,0.42L-0.588,0.809L-0.4,0.13L-0.951,-0.309L-0.247,-0.34Z","size":625,"filled":true,"fill":"#fff","stroke":"#0000ff","strokeWidth":2,"opacity":1},"encoding":{"x":{"field":"N","type":"quantitative","axis":null},"y":{"field":"Z","type":"quantitative","axis":null}}},
{"data":{"name":"stars"},"mark":{"type":"point","shape":"circle","size":3,"filled":true,"color":"#222","opacity":1},"encoding":{"x":{"field":"N","type":"quantitative","axis":null},"y":{"field":"Z","type":"quantitative","axis":null}}},
{"data":{"name":"stars"},"mark":{"type":"text","fontSize":10,"fontStyle":"italic","fontWeight":"bold","color":"#fff"},"encoding":{"x":{"field":"N","type":"quantitative","axis":null},"y":{"field":"lz","type":"quantitative","axis":null},"text":{"field":"e"}}}
]},
{"width":42,"height":492,
"layer":[
{"data":{"name":"legend"},"mark":{"type":"rect","strokeWidth":0.6},"encoding":{
"x":{"datum":0,"type":"quantitative","axis":null,"scale":{"domain":[0,1]}},
"x2":{"datum":1},
"y":{"field":"lo","type":"quantitative","scale":{"domain":[11.08,-8.25],"nice":false,"zero":false},"axis":{"orient":"right","values":[0,1,2,3,4,5,6,7,8,9,10,11],"labelExpr":"['3x10⁻⁴','1x10⁻³','4x10⁻³','1x10⁻²','5x10⁻²','2x10⁻¹','7x10⁻¹','2x10⁰','9x10⁰','3x10¹','1x10²','4x10²'][datum.value]","ticks":false,"domain":false,"grid":false,"title":null,"labelFontSize":12,"labelColor":"#000","labelPadding":4,"labelOverlap":false,"labelFlush":false}},
"y2":{"field":"hi"},
"color":{"field":"c","type":"nominal","legend":null},
"stroke":{"field":"c","type":"nominal","legend":null}}},
{"data":{"name":"ltitle"},"mark":{"type":"text","fontSize":12,"color":"#000"},"encoding":{"x":{"datum":0.905,"type":"quantitative","axis":null},"y":{"field":"p","type":"quantitative"},"text":{"field":"t"}}}
]}
]}
